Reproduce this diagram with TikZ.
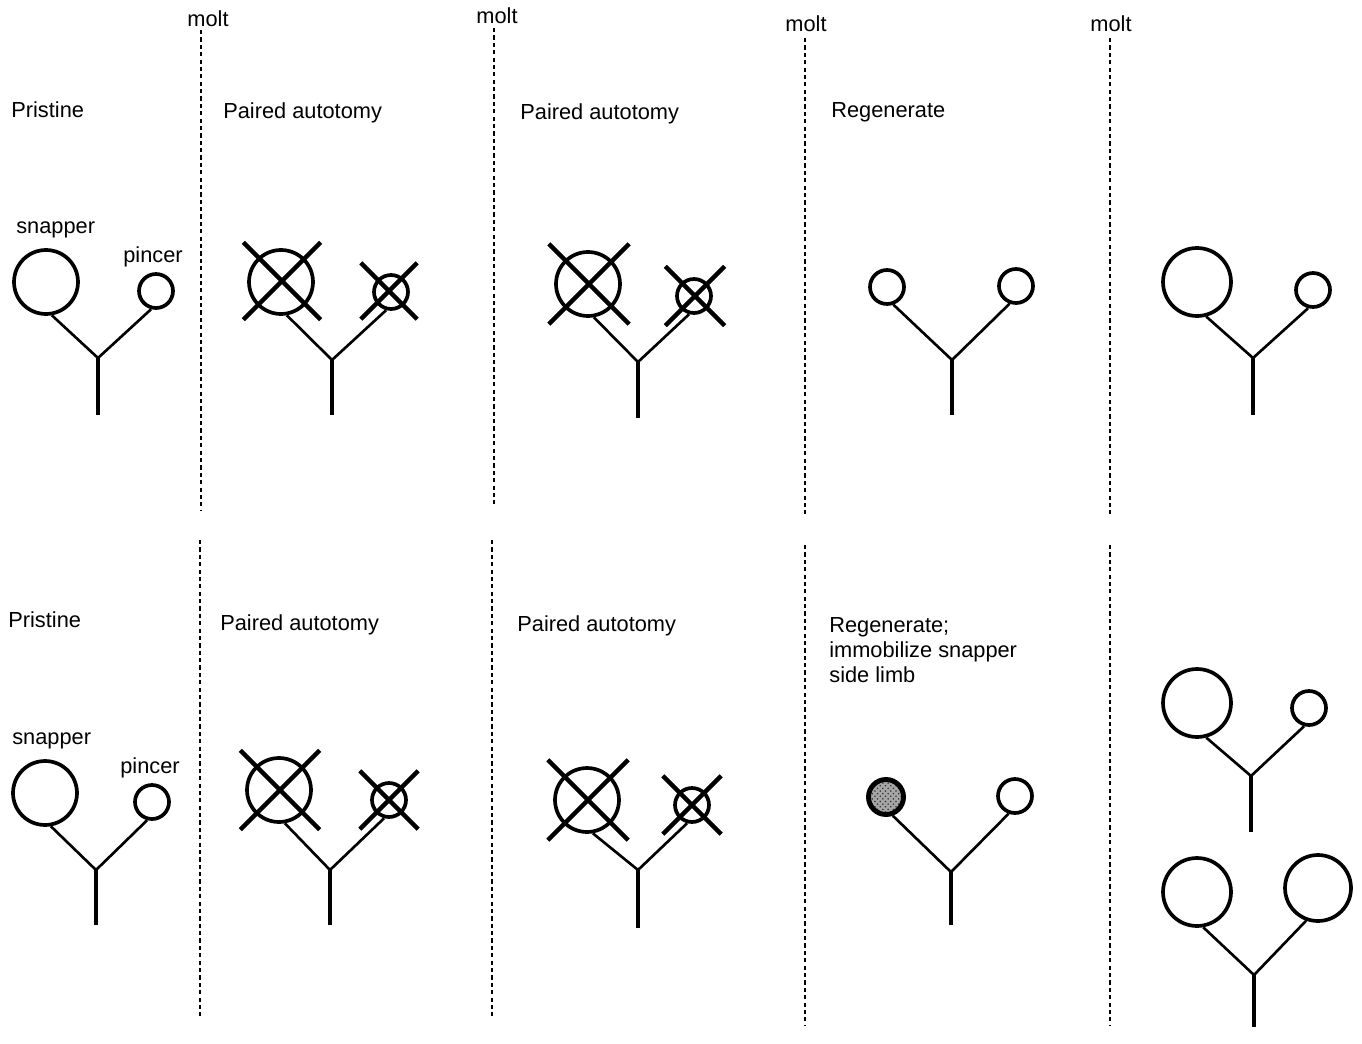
\documentclass[tikz,border=0pt]{standalone}
\usepackage{fontspec}
\setmainfont{Liberation Sans}
\usetikzlibrary{shapes.misc,patterns}
\tikzset{
  bigcl/.style={circle,draw,line width=2.1pt,inner sep=0pt,minimum size=1.28cm},
  smallcl/.style={circle,draw,line width=2.1pt,inner sep=0pt,minimum size=0.68cm},
  fixedcl/.style={smallcl,line width=2.8pt,minimum size=0.7cm,
                  preaction={fill=black!35},
                  pattern=crosshatch dots,pattern color=black!80},
  lost/.style={cross out,draw,line width=2.5pt,inner sep=0pt},
  limb/.style={line width=1.5pt},
  stem/.style={line width=2.5pt},
  moltline/.style={line width=1.6pt,dash pattern=on 2.4pt off 1.8pt},
  lbl/.style={font=\fontsize{12.4}{14.2}\selectfont,inner sep=0pt,anchor=base west},
}
\begin{document}
\begin{tikzpicture}[x=0.02cm,y=-0.02cm]
  \useasboundingbox (0,0) rectangle (1362,1044);
  % molt separators
  \node[lbl,anchor=base] (m1) at (208,27) {molt};
  \node[lbl,anchor=base] (m2) at (497,24) {molt};
  \node[lbl,anchor=base] (m3) at (806,32) {molt};
  \node[lbl,anchor=base] (m4) at (1111,32) {molt};
  \draw[moltline] (201,30) -- (201,510);
  \draw[moltline] (494,28) -- (494,505);
  \draw[moltline] (805,38) -- (805,515);
  \draw[moltline] (1110,38) -- (1110,515);
  \draw[moltline] (200,540) -- (200,1018);
  \draw[moltline] (492,540) -- (492,1018);
  \draw[moltline] (805,545) -- (805,1025);
  \draw[moltline] (1110,545) -- (1110,1025);

  % top row: labels
  \node[lbl] (tl1) at (11,118) {Pristine};
  \node[lbl] (tl2) at (223,119) {Paired autotomy};
  \node[lbl] (tl3) at (520,120) {Paired autotomy};
  \node[lbl] (tl4) at (831,118) {Regenerate};
  \node[lbl] (tsn) at (16,234) {snapper};
  \node[lbl] (tpi) at (123,262) {pincer};

  % top row: claws
  \node[bigcl] (t1s) at (46,282) {};
  \node[smallcl] (t1p) at (156,291) {};
  \coordinate (t1j) at (98,358);
  \coordinate (t1b) at (98,415);
  \draw[limb] (t1s.280) -- (t1j) -- (t1p.255);
  \draw[stem] (t1j) -- (t1b);

  \node[bigcl] (t2s) at (281,282) {};
  \node[smallcl] (t2p) at (391,292) {};
  \node[lost,minimum size=1.46cm] (t2sx) at (282,281) {};
  \node[lost,minimum size=1.04cm] (t2px) at (389,291) {};
  \coordinate (t2j) at (332,360);
  \coordinate (t2b) at (332,415);
  \draw[limb] (t2s.280) -- (t2j) -- (t2p.255);
  \draw[stem] (t2j) -- (t2b);

  \node[bigcl] (t3s) at (588,284) {};
  \node[smallcl] (t3p) at (694,296) {};
  \node[lost,minimum size=1.52cm] (t3sx) at (589,284) {};
  \node[lost,minimum size=1.1cm] (t3px) at (695,296) {};
  \coordinate (t3j) at (638,362);
  \coordinate (t3b) at (638,418);
  \draw[limb] (t3s.280) -- (t3j) -- (t3p.255);
  \draw[stem] (t3j) -- (t3b);

  \node[smallcl] (t4s) at (887,287) {};
  \node[smallcl] (t4p) at (1016,286) {};
  \coordinate (t4j) at (952,360);
  \coordinate (t4b) at (952,415);
  \draw[limb] (t4s.290) -- (t4j) -- (t4p.250);
  \draw[stem] (t4j) -- (t4b);

  \node[bigcl,minimum size=1.36cm] (t5s) at (1197,282) {};
  \node[smallcl] (t5p) at (1313,290) {};
  \coordinate (t5j) at (1253,358);
  \coordinate (t5b) at (1253,415);
  \draw[limb] (t5s.285) -- (t5j) -- (t5p.255);
  \draw[stem] (t5j) -- (t5b);

  % bottom row: labels
  \node[lbl] (bl1) at (8,627) {Pristine};
  \node[lbl] (bl2) at (220,630) {Paired autotomy};
  \node[lbl] (bl3) at (517,631) {Paired autotomy};
  \node[lbl,anchor=north west,align=left] (bl4) at (829,617)
    {Regenerate;\\immobilize snapper\\side limb};
  \node[lbl] (bsn) at (12,744) {snapper};
  \node[lbl] (bpi) at (120,773) {pincer};

  % bottom row: claws
  \node[bigcl] (b1s) at (45,793) {};
  \node[smallcl] (b1p) at (152,802) {};
  \coordinate (b1j) at (96,870);
  \coordinate (b1b) at (96,925);
  \draw[limb] (b1s.280) -- (b1j) -- (b1p.255);
  \draw[stem] (b1j) -- (b1b);

  \node[bigcl] (b2s) at (279,790) {};
  \node[smallcl] (b2p) at (389,800) {};
  \node[lost,minimum size=1.5cm] (b2sx) at (280,790) {};
  \node[lost,minimum size=1.08cm] (b2px) at (389,800) {};
  \coordinate (b2j) at (330,870);
  \coordinate (b2b) at (330,925);
  \draw[limb] (b2s.280) -- (b2j) -- (b2p.255);
  \draw[stem] (b2j) -- (b2b);

  \node[bigcl] (b3s) at (587,800) {};
  \node[smallcl] (b3p) at (692,805) {};
  \node[lost,minimum size=1.52cm] (b3sx) at (588,800) {};
  \node[lost,minimum size=1.08cm] (b3px) at (692,805) {};
  \coordinate (b3j) at (638,870);
  \coordinate (b3b) at (638,928);
  \draw[limb] (b3s.280) -- (b3j) -- (b3p.255);
  \draw[stem] (b3j) -- (b3b);

  \node[fixedcl] (b4s) at (886,797) {};
  \node[smallcl] (b4p) at (1015,796) {};
  \coordinate (b4j) at (951,872);
  \coordinate (b4b) at (951,925);
  \draw[limb] (b4s.290) -- (b4j) -- (b4p.250);
  \draw[stem] (b4j) -- (b4b);

  \node[bigcl,minimum size=1.36cm] (b5s) at (1197,703) {};
  \node[smallcl] (b5p) at (1309,708) {};
  \coordinate (b5j) at (1251,776);
  \coordinate (b5b) at (1251,832);
  \draw[limb] (b5s.285) -- (b5j) -- (b5p.255);
  \draw[stem] (b5j) -- (b5b);

  \node[bigcl,minimum size=1.36cm] (b6s) at (1197,892) {};
  \node[bigcl,minimum size=1.32cm] (b6p) at (1318,888) {};
  \coordinate (b6j) at (1254,975);
  \coordinate (b6b) at (1254,1027);
  \draw[limb] (b6s.280) -- (b6j) -- (b6p.250);
  \draw[stem] (b6j) -- (b6b);
\end{tikzpicture}
\end{document}
